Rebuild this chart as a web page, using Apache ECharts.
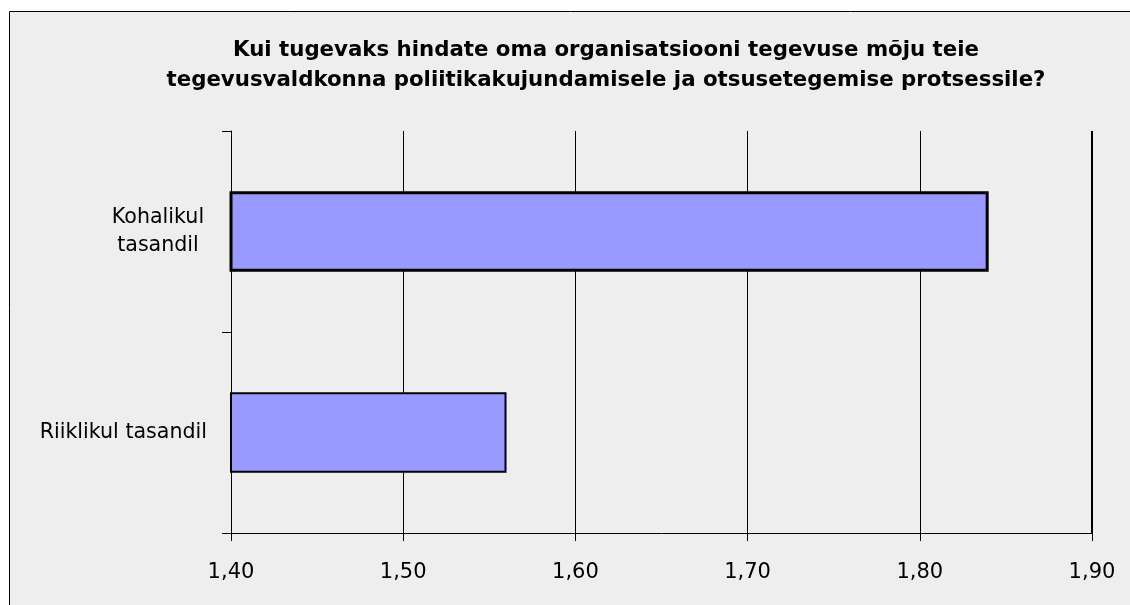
<!DOCTYPE html>
<html>
<head>
<meta charset="utf-8">
<script src="https://cdn.jsdelivr.net/npm/echarts@6/dist/echarts.min.js"></script>
<style>
html,body{margin:0;padding:0;background:#fff;}
#chart{width:1130px;height:605px;}
</style>
</head>
<body>
<div id="chart"></div>
<script>
const titleLines = ['Kui tugevaks hindate oma organisatsiooni tegevuse mõju teie', 'tegevusvaldkonna poliitikakujundamisele ja otsusetegemise protsessile?'];
const categories = ['Riiklikul tasandil', 'Kohalikul\ntasandil'];
const values = [1.56, 1.84];
const xMin = 1.4;
const xMax = 1.9;
const xInterval = 0.1;

const chart = echarts.init(document.getElementById('chart'));
const option = {
  backgroundColor: '#ffffff',
  animation: false,
  graphic: [{
    type: 'rect',
    z: -10,
    shape: { x: 9.5, y: 11.5, width: 1140, height: 620 },
    style: { fill: '#eeeeee', stroke: '#000000', lineWidth: 1 }
  }],
  title: {
    text: titleLines.join('\n'),
    left: 606,
    top: 35,
    padding: 0,
    textAlign: 'center',
    textStyle: {
      fontFamily: 'DejaVu Sans',
      fontWeight: 'bold',
      fontSize: 21.3,
      lineHeight: 30,
      color: '#000000'
    }
  },
  grid: { left: 231, right: 38, top: 131, bottom: 72 },
  xAxis: {
    type: 'value',
    min: xMin,
    max: xMax,
    interval: xInterval,
    axisLine: { show: true, lineStyle: { color: '#000', width: 1 } },
    axisTick: { show: true, length: 8, lineStyle: { color: '#000' } },
    splitLine: { show: true, lineStyle: { color: '#000', width: 1 } },
    axisLabel: {
      margin: 29,
      fontFamily: 'DejaVu Sans',
      fontSize: 21,
      color: '#000',
      formatter: v => v.toFixed(2).replace('.', ',')
    }
  },
  yAxis: {
    type: 'category',
    data: categories,
    axisLine: { show: true, lineStyle: { color: '#000', width: 1 } },
    axisTick: { show: true, length: 9, lineStyle: { color: '#000' } },
    axisLabel: {
      margin: 24,
      fontFamily: 'DejaVu Sans',
      fontSize: 20.6,
      lineHeight: 28,
      color: '#000',
      formatter: function (v) {
        if (v.indexOf('\n') >= 0) {
          return v.split('\n').map(s => '{c|' + s + '}').join('\n');
        }
        return v;
      },
      rich: {
        c: { width: 98, align: 'center', fontFamily: 'DejaVu Sans', fontSize: 20.6, lineHeight: 28, color: '#000' }
      }
    }
  },
  series: [{
    type: 'bar',
    data: values.map((v, i) => ({ value: v, itemStyle: { borderWidth: i === 1 ? 3 : 2 } })),
    barCategoryGap: '60%',
    itemStyle: { color: '#9999ff', borderColor: '#000', borderWidth: 2 },
    markLine: {
      silent: true,
      symbol: 'none',
      label: { show: false },
      lineStyle: { color: '#000', width: 2, type: 'solid' },
      data: [{ xAxis: xMax }]
    }
  }]
};
chart.setOption(option);
</script>
</body>
</html>
